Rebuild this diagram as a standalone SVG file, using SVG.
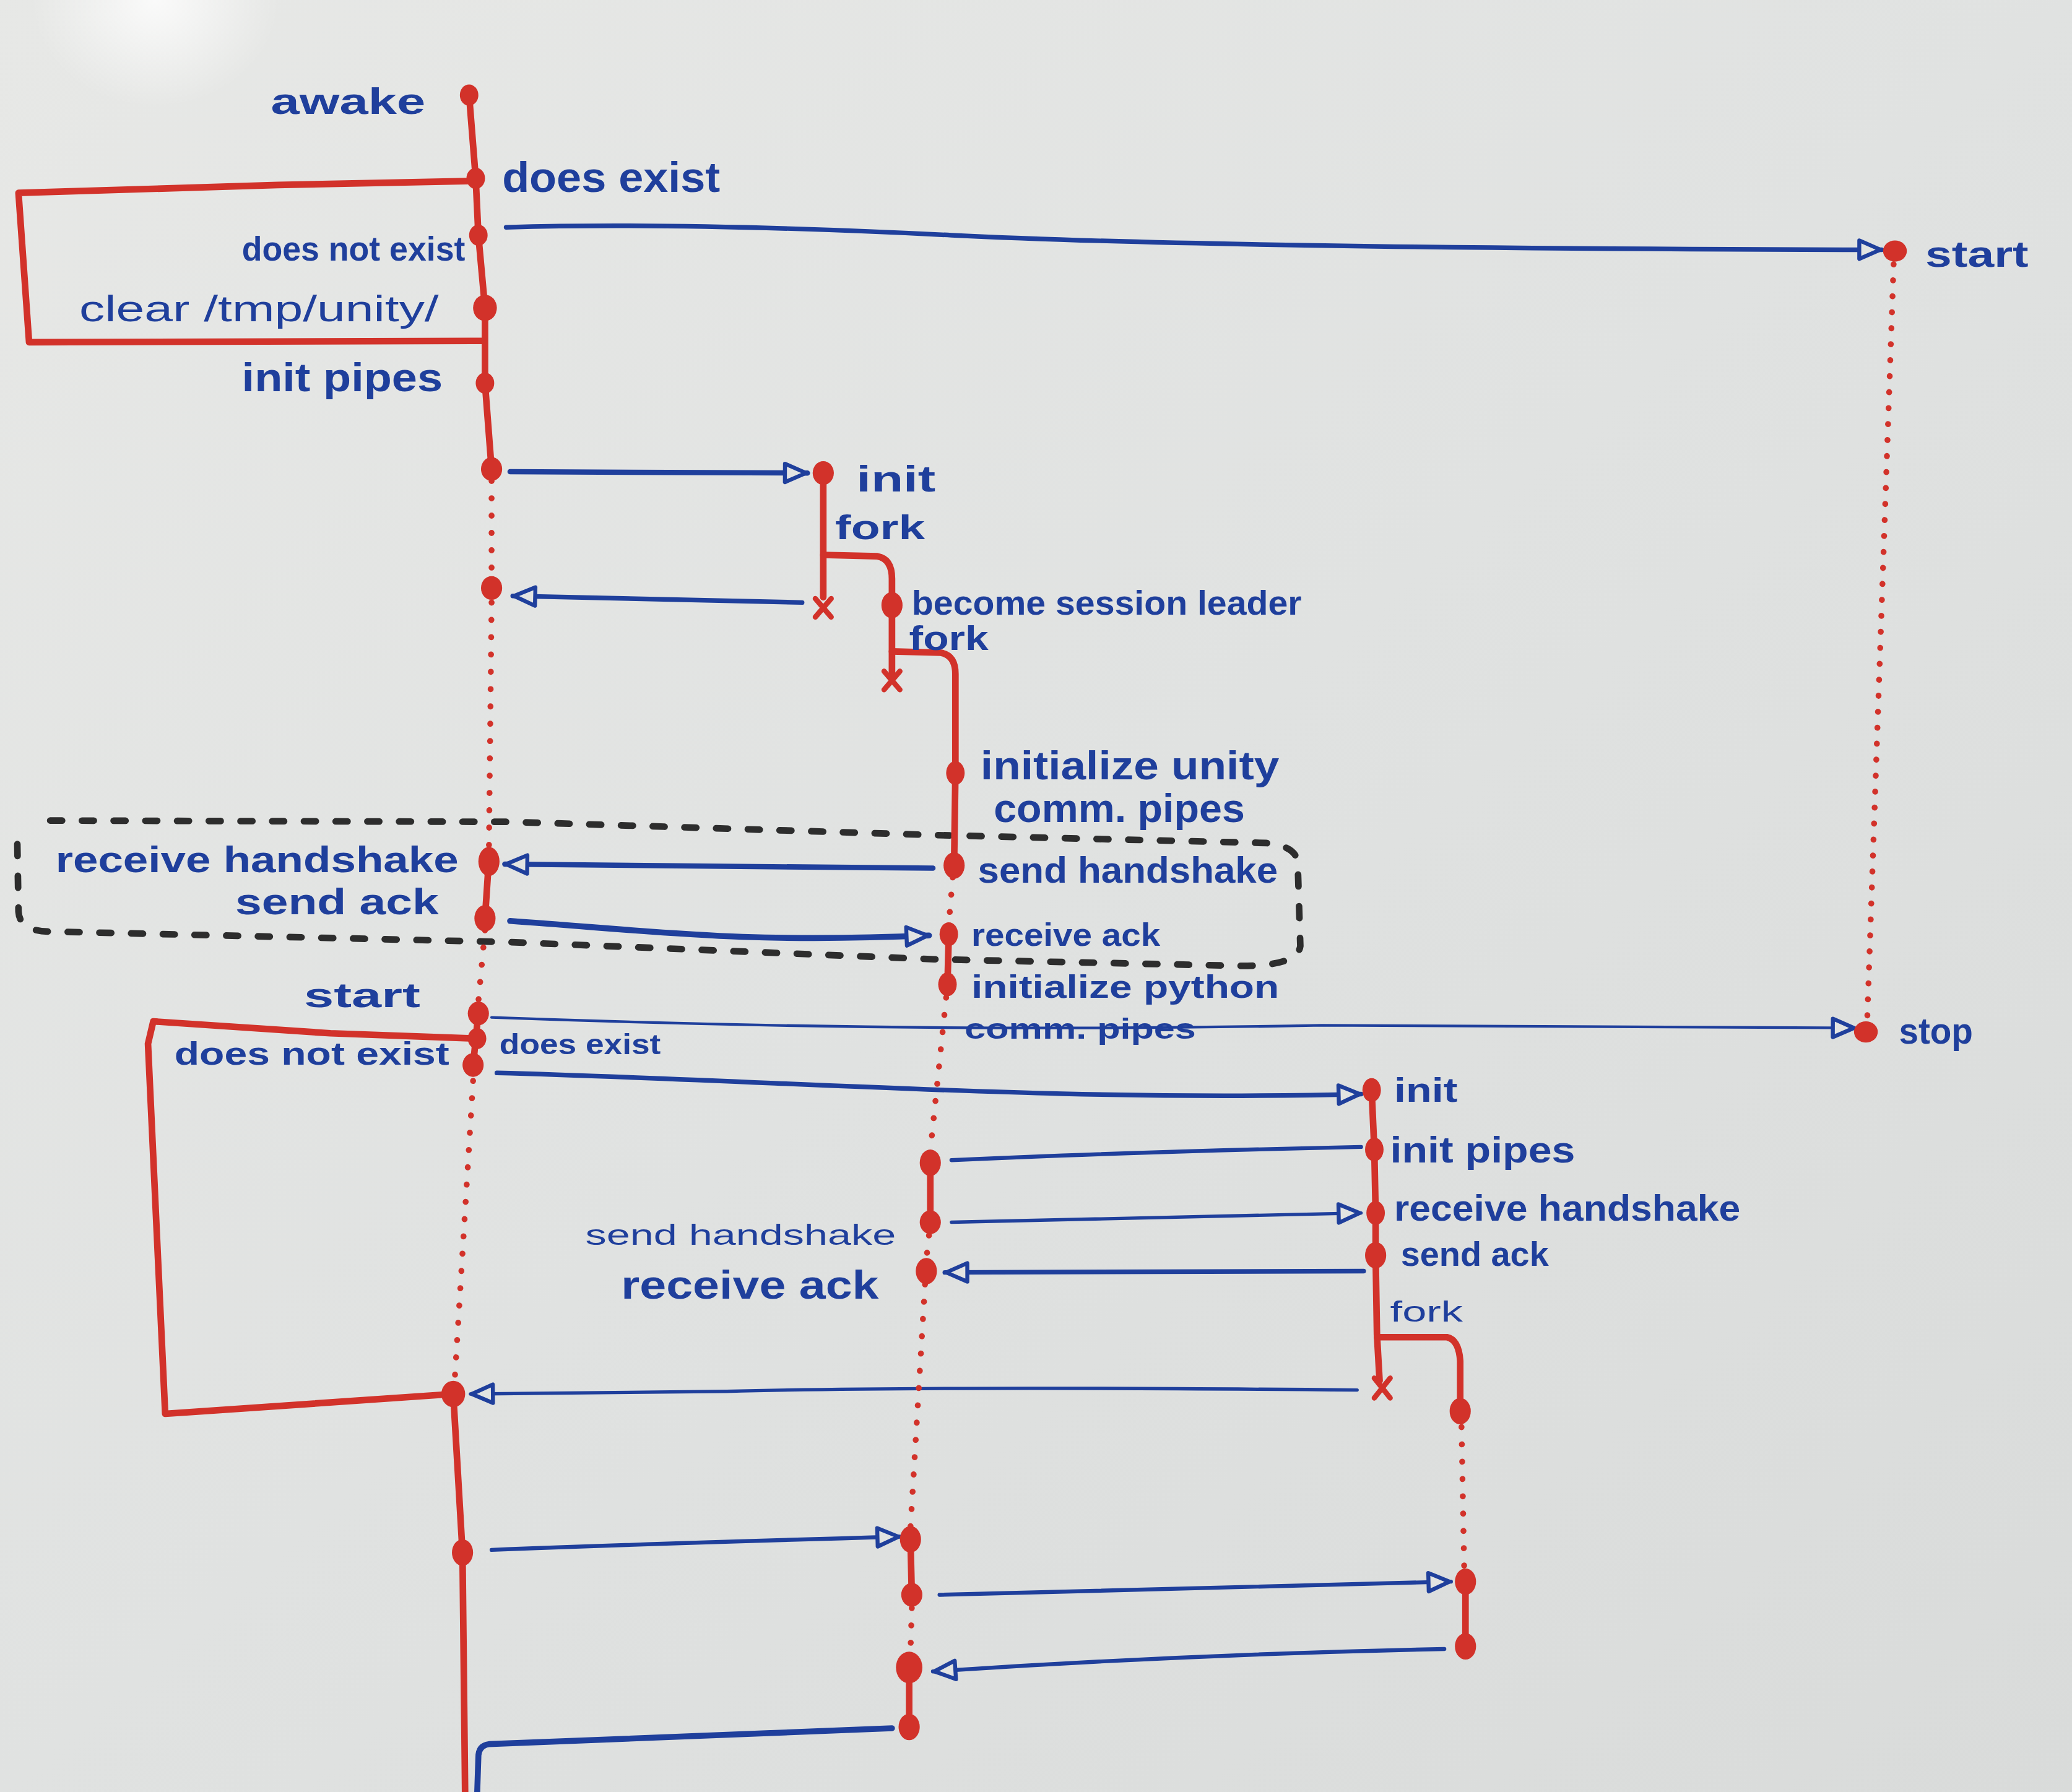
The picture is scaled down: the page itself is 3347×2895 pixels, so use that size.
<svg xmlns="http://www.w3.org/2000/svg" width="3347" height="2895" viewBox="0 0 3347 2895">
<defs>
<linearGradient id="bg" x1="0" y1="0" x2="1" y2="1">
<stop offset="0" stop-color="#e7e8e6"/>
<stop offset="0.5" stop-color="#e0e2e1"/>
<stop offset="1" stop-color="#d9dbda"/>
</linearGradient>
<radialGradient id="glare" cx="0.075" cy="0" r="0.06">
<stop offset="0" stop-color="#ffffff" stop-opacity="0.8"/>
<stop offset="1" stop-color="#ffffff" stop-opacity="0"/>
</radialGradient>
<marker id="ah" viewBox="0 0 22 18" refX="20" refY="9" markerWidth="22" markerHeight="18" markerUnits="userSpaceOnUse" orient="auto">
<path d="M3,2 L19,9 L3,16 Z" fill="#e3e4e2" stroke="#1f3f9c" stroke-width="3" stroke-linejoin="round"/>
</marker>
<style>
.life{fill:none;stroke:#d2322a;stroke-width:5;stroke-linecap:round;stroke-linejoin:round}
.dotl{fill:none;stroke:#d2322a;stroke-width:4.5;stroke-linecap:round;stroke-dasharray:0.1 13}
.nd{fill:#d2322a}
.x{fill:none;stroke:#d2322a;stroke-width:4;stroke-linecap:round}
.msg{fill:none;stroke:#1f3f9c;stroke-width:3.5;stroke-linecap:round;stroke-linejoin:round}
.thin{stroke-width:2}
.arr{marker-end:url(#ah)}
.lbl{font-family:'Liberation Sans',Arial,sans-serif;font-weight:bold;fill:#1f3f9c}
.lt{font-weight:normal}
.box{fill:none;stroke:#2d2d2d;stroke-width:5;stroke-dasharray:9 15;stroke-linecap:round}
</style>
</defs>
<rect width="3347" height="2895" fill="url(#bg)"/>
<rect width="3347" height="2895" fill="url(#glare)"/>
<g transform="scale(2.1346)">

<g id="loop-box">
<path class="box" d="M38,621 L385,622 L707,632 L958,638 Q980,640 982,652 L984,716 Q982,731 940,731 L707,726 L385,713 L38,705 Q15,705 14,690 L13,632"/>
</g>

<g id="connectors">
<path class="msg arr" d="M383,172 Q520,168 720,178 T1424,189"/>
<path class="msg arr" style="stroke-width:4" d="M386,357 L611,358"/>
<path class="msg arr" d="M607,456 Q500,454 388,451"/>
<path class="msg arr" style="stroke-width:4" d="M706,657 C600,656 450,655 382,654"/>
<path class="msg arr" style="stroke-width:4.5" d="M386,697 C500,705 560,714 703,708"/>
<path class="msg thin arr" d="M372,770 Q700,782 1000,776 L1404,778"/>
<path class="msg arr" d="M376,812 C600,818 800,834 1030,828"/>
<path class="msg" style="stroke-width:3" d="M720,878 Q850,872 1030,868"/>
<path class="msg arr" style="stroke-width:2.5" d="M720,925 L1030,918"/>
<path class="msg arr" d="M1032,962 L715,963"/>
<path class="msg arr" style="stroke-width:2.5" d="M1027,1052 Q700,1049 550,1053 L356,1055"/>
<path class="msg arr" style="stroke-width:3" d="M372,1173 Q500,1168 681,1163"/>
<path class="msg arr" style="stroke-width:3" d="M711,1207 L1098,1197"/>
<path class="msg arr" style="stroke-width:3" d="M1093,1248 Q900,1252 706,1265"/>
<path class="msg" style="stroke-width:4.5" d="M675,1308 L370,1320 Q362,1321 362,1330 L361,1360"/>
</g>

<g id="main-process">
<path class="life" d="M358,137 L210,140 L14,146 L22,259 L365,258"/>
<path class="life" d="M359,786 L250,782 L116,773 L112,790 L125,1070 L343,1055"/>
<path class="life" d="M355,72 L360,135 L362,178 L367,233 L367,290 L372,355"/>
<path class="dotl" d="M372,364 L372,440"/>
<path class="dotl" d="M372,456 L370,642"/>
<path class="life" d="M370,650 L367,695"/>
<path class="dotl" d="M367,704 L362,758"/>
<path class="life" d="M362,767 L360,786 L358,807"/>
<path class="dotl" d="M358,818 L344,1046"/>
<path class="life" d="M343,1055 L350,1175 L352,1360"/>
<ellipse class="nd" cx="355" cy="72" rx="7" ry="8"/>
<ellipse class="nd" cx="360" cy="135" rx="7" ry="8"/>
<ellipse class="nd" cx="362" cy="178" rx="7" ry="8"/>
<ellipse class="nd" cx="367" cy="233" rx="9" ry="10"/>
<ellipse class="nd" cx="367" cy="290" rx="7" ry="8"/>
<ellipse class="nd" cx="372" cy="355" rx="8" ry="9"/>
<ellipse class="nd" cx="372" cy="445" rx="8" ry="9"/>
<ellipse class="nd" cx="370" cy="652" rx="8" ry="11"/>
<ellipse class="nd" cx="367" cy="695" rx="8" ry="10"/>
<ellipse class="nd" cx="362" cy="767" rx="8" ry="9"/>
<ellipse class="nd" cx="361" cy="786" rx="7" ry="8"/>
<ellipse class="nd" cx="358" cy="806" rx="8" ry="9"/>
<ellipse class="nd" cx="343" cy="1055" rx="9" ry="10"/>
<ellipse class="nd" cx="350" cy="1175" rx="8" ry="10"/>
</g>

<g id="init-process">
<path class="life" d="M623,358 L623,452"/>
<path class="x" d="M617,453 L629,467 M629,453 L617,467"/>
<path class="life" d="M623,420 L664,421 Q675,423 675,438 L675,458"/>
<ellipse class="nd" cx="623" cy="358" rx="8" ry="9"/>
</g>

<g id="session-leader">
<path class="life" d="M675,458 L675,510"/>
<path class="x" d="M669,508 L681,522 M681,508 L669,522"/>
<path class="life" d="M675,493 L712,494 Q723,496 723,510 L723,585 L722,655"/>
<ellipse class="nd" cx="675" cy="458" rx="8" ry="10"/>
</g>

<g id="daemon">
<ellipse class="nd" cx="723" cy="585" rx="7" ry="9"/>
<ellipse class="nd" cx="722" cy="655" rx="8" ry="10"/>
<path class="dotl" d="M721,664 L718,699"/>
<path class="life" d="M718,707 L717,745"/>
<ellipse class="nd" cx="718" cy="707" rx="7" ry="9"/>
<ellipse class="nd" cx="717" cy="745" rx="7" ry="9"/>
<path class="dotl" d="M716,755 L704,871"/>
<path class="life" d="M704,880 L704,925"/>
<ellipse class="nd" cx="704" cy="880" rx="8" ry="10"/>
<ellipse class="nd" cx="704" cy="925" rx="8" ry="9"/>
<path class="dotl" d="M703,935 L701,953"/>
<ellipse class="nd" cx="701" cy="962" rx="8" ry="10"/>
<path class="dotl" d="M700,972 L689,1156"/>
<path class="life" d="M689,1165 L690,1207"/>
<ellipse class="nd" cx="689" cy="1165" rx="8" ry="10"/>
<ellipse class="nd" cx="690" cy="1207" rx="8" ry="9"/>
<path class="dotl" d="M690,1217 L689,1250"/>
<path class="life" d="M688,1262 L688,1307"/>
<ellipse class="nd" cx="688" cy="1262" rx="10" ry="12"/>
<ellipse class="nd" cx="688" cy="1307" rx="8" ry="10"/>
</g>

<g id="python-init">
<path class="life" d="M1038,825 L1040,870 L1041,918 L1041,950 L1042,1010 L1044,1045"/>
<path class="x" d="M1040,1043 L1052,1058 M1052,1043 L1040,1058"/>
<path class="life" d="M1042,1012 L1095,1012 Q1104,1014 1105,1030 L1105,1068"/>
<ellipse class="nd" cx="1038" cy="825" rx="7" ry="9"/>
<ellipse class="nd" cx="1040" cy="870" rx="7" ry="9"/>
<ellipse class="nd" cx="1041" cy="918" rx="7" ry="9"/>
<ellipse class="nd" cx="1041" cy="950" rx="8" ry="10"/>
</g>

<g id="python-child">
<ellipse class="nd" cx="1105" cy="1068" rx="8" ry="10"/>
<path class="dotl" d="M1106,1080 L1108,1186"/>
<path class="life" d="M1109,1197 L1109,1246"/>
<ellipse class="nd" cx="1109" cy="1197" rx="8" ry="10"/>
<ellipse class="nd" cx="1109" cy="1246" rx="8" ry="10"/>
</g>

<g id="unity">
<ellipse class="nd" cx="1434" cy="190" rx="9" ry="8"/>
<path class="dotl" style="stroke-dasharray:0.1 12" d="M1433,200 L1413,772"/>
<ellipse class="nd" cx="1412" cy="781" rx="9" ry="8"/>
</g>

<g id="labels">
<text class="lbl" x="205" y="86" font-size="28" textLength="117" lengthAdjust="spacingAndGlyphs">awake</text>
<text class="lbl" x="380" y="145" font-size="32" textLength="165" lengthAdjust="spacingAndGlyphs">does exist</text>
<text class="lbl" x="183" y="197" font-size="26" textLength="169" lengthAdjust="spacingAndGlyphs">does not exist</text>
<text class="lbl lt" x="60" y="243" font-size="28" textLength="272" lengthAdjust="spacingAndGlyphs">clear /tmp/unity/</text>
<text class="lbl" x="183" y="296" font-size="30" textLength="152" lengthAdjust="spacingAndGlyphs">init pipes</text>
<text class="lbl" x="648" y="372" font-size="28" textLength="60" lengthAdjust="spacingAndGlyphs">init</text>
<text class="lbl" x="632" y="408" font-size="26" textLength="68" lengthAdjust="spacingAndGlyphs">fork</text>
<text class="lbl" x="690" y="465" font-size="26" textLength="295" lengthAdjust="spacingAndGlyphs">become session leader</text>
<text class="lbl" x="688" y="492" font-size="26" textLength="60" lengthAdjust="spacingAndGlyphs">fork</text>
<text class="lbl" x="742" y="590" font-size="30" textLength="226" lengthAdjust="spacingAndGlyphs">initialize unity</text>
<text class="lbl" x="752" y="622" font-size="30" textLength="190" lengthAdjust="spacingAndGlyphs">comm. pipes</text>
<text class="lbl" x="42" y="660" font-size="28" textLength="305" lengthAdjust="spacingAndGlyphs">receive handshake</text>
<text class="lbl" x="178" y="692" font-size="28" textLength="154" lengthAdjust="spacingAndGlyphs">send ack</text>
<text class="lbl" x="740" y="668" font-size="28" textLength="227" lengthAdjust="spacingAndGlyphs">send handshake</text>
<text class="lbl" x="735" y="716" font-size="24" textLength="143" lengthAdjust="spacingAndGlyphs">receive ack</text>
<text class="lbl" x="735" y="755" font-size="24" textLength="233" lengthAdjust="spacingAndGlyphs">initialize python</text>
<text class="lbl" x="730" y="786" font-size="22" textLength="175" lengthAdjust="spacingAndGlyphs">comm. pipes</text>
<text class="lbl" x="230" y="762" font-size="26" textLength="88" lengthAdjust="spacingAndGlyphs">start</text>
<text class="lbl" x="132" y="806" font-size="24" textLength="208" lengthAdjust="spacingAndGlyphs">does not exist</text>
<text class="lbl" x="378" y="798" font-size="22" textLength="122" lengthAdjust="spacingAndGlyphs">does exist</text>
<text class="lbl" x="1457" y="202" font-size="28" textLength="78" lengthAdjust="spacingAndGlyphs">start</text>
<text class="lbl" x="1437" y="790" font-size="28" textLength="56" lengthAdjust="spacingAndGlyphs">stop</text>
<text class="lbl" x="1055" y="834" font-size="26" textLength="48" lengthAdjust="spacingAndGlyphs">init</text>
<text class="lbl" x="1052" y="880" font-size="28" textLength="140" lengthAdjust="spacingAndGlyphs">init pipes</text>
<text class="lbl" x="1055" y="924" font-size="28" textLength="262" lengthAdjust="spacingAndGlyphs">receive handshake</text>
<text class="lbl" x="1060" y="958" font-size="26" textLength="112" lengthAdjust="spacingAndGlyphs">send ack</text>
<text class="lbl lt" x="1052" y="1000" font-size="22" textLength="55" lengthAdjust="spacingAndGlyphs">fork</text>
<text class="lbl lt" x="443" y="942" font-size="22" textLength="235" lengthAdjust="spacingAndGlyphs">send handshake</text>
<text class="lbl" x="470" y="983" font-size="30" textLength="195" lengthAdjust="spacingAndGlyphs">receive ack</text>
</g>
</g>
</svg>
